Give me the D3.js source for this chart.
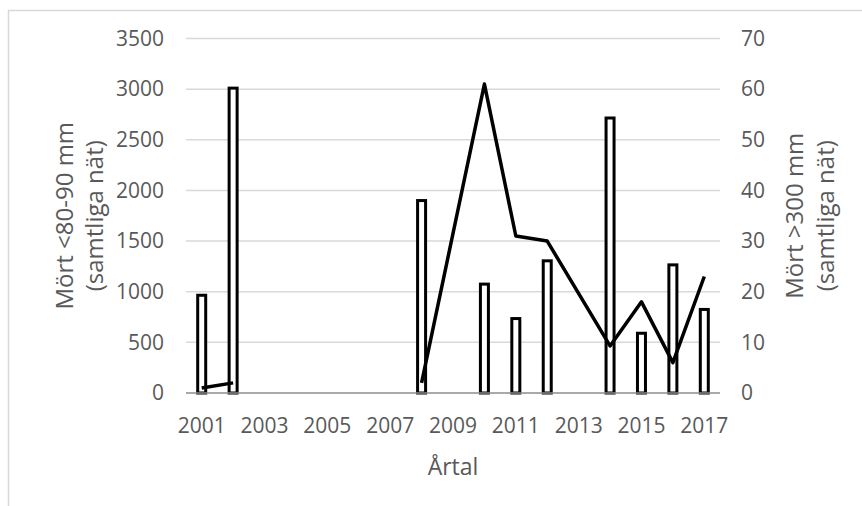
<!DOCTYPE html>
<html>
<head>
<meta charset="utf-8">
<script src="https://cdn.jsdelivr.net/npm/d3@7"></script>
<style>
  body { margin: 0; background: #fff; }
  svg { display: block; }
  text { font-family: "Open Sans", sans-serif; fill: #595959; }
</style>
</head>
<body>
<svg id="chart" width="862" height="506"></svg>
<script>
// ---- data ----
const years = d3.range(2001, 2018).map(String);
const barYears = ["2001", "2002", "2008", "2010", "2011", "2012", "2014", "2015", "2016", "2017"];
const barValues = [965, 3010, 1900, 1075, 735, 1305, 2715, 590, 1265, 825];
const lineYears = ["2001", "2002", "2003", "2008", "2010", "2011", "2012", "2014", "2015", "2016", "2017"];
const lineValues = [1, 2, null, 2, 61, 31, 30, 9.3, 18, 6, 23];
const leftTicks = [0, 500, 1000, 1500, 2000, 2500, 3000, 3500];
const rightTicks = [0, 10, 20, 30, 40, 50, 60, 70];
const xTickLabels = ["2001", "2003", "2005", "2007", "2009", "2011", "2013", "2015", "2017"];
const leftTitle = ["Mört <80-90 mm", "(samtliga nät)"];
const rightTitle = ["Mört >300 mm", "(samtliga nät)"];
const xTitle = "Årtal";

// ---- layout ----
const svg = d3.select("#chart");
const plot = { left: 186, right: 720, top: 38.5, bottom: 393 };

svg.append("rect")
  .attr("x", 8.5).attr("y", 10.5).attr("width", 900).attr("height", 600)
  .attr("fill", "none").attr("stroke", "#d9d9d9").attr("stroke-width", 1.5);

const x = d3.scaleBand().domain(years).range([plot.left, plot.right]);
const yL = d3.scaleLinear().domain([0, 3500]).range([plot.bottom, plot.top]);
const yR = d3.scaleLinear().domain([0, 70]).range([plot.bottom, plot.top]);

// gridlines
svg.append("g").selectAll("line").data(leftTicks.filter(d => d > 0)).join("line")
  .attr("x1", plot.left).attr("x2", plot.right)
  .attr("y1", d => yL(d)).attr("y2", d => yL(d))
  .attr("stroke", "#d9d9d9").attr("stroke-width", 1.5);

const styleTicks = g => g.selectAll("text")
  .style("font-size", "21px").style("fill", "#595959").style("font-family", "Open Sans");

// left axis labels
const leftAxis = d3.axisLeft(yL).tickValues(leftTicks).tickFormat(d3.format("d")).tickSize(0).tickPadding(22);
const gL = svg.append("g").attr("transform", `translate(${plot.left},0)`).call(leftAxis);
gL.select(".domain").remove();
styleTicks(gL);

// right axis labels
const rightAxis = d3.axisRight(yR).tickValues(rightTicks).tickFormat(d3.format("d")).tickSize(0).tickPadding(21);
const gR = svg.append("g").attr("transform", `translate(${plot.right},0)`).call(rightAxis);
gR.select(".domain").remove();
styleTicks(gR);

// x axis labels
const xAxis = d3.axisBottom(x).tickValues(xTickLabels).tickSize(0).tickPadding(25);
const gX = svg.append("g").attr("transform", `translate(0,${plot.bottom})`).call(xAxis);
gX.select(".domain").remove();
styleTicks(gX);

// bars
const barW = 8;
svg.append("g").selectAll("rect").data(barYears.map((y, i) => ({ y, v: barValues[i] }))).join("rect")
  .attr("x", d => x(d.y) + x.bandwidth() / 2 - barW / 2)
  .attr("width", barW)
  .attr("y", d => yL(d.v))
  .attr("height", d => yL(0) - yL(d.v))
  .attr("fill", "#fff").attr("stroke", "#000").attr("stroke-width", 3);

// baseline
svg.append("line")
  .attr("x1", plot.left).attr("x2", plot.right)
  .attr("y1", yL(0)).attr("y2", yL(0))
  .attr("stroke", "#8c8c8c").attr("stroke-width", 1.5);

// line
const lineData = lineYears.map((y, i) => ({ y, v: lineValues[i] }));
const line = d3.line()
  .defined(d => d.v !== null)
  .x(d => x(d.y) + x.bandwidth() / 2)
  .y(d => yR(d.v));
svg.append("path").datum(lineData)
  .attr("d", line)
  .attr("fill", "none").attr("stroke", "#000").attr("stroke-width", 3.5)
  .attr("stroke-linejoin", "round").attr("stroke-linecap", "butt");

// titles
const cy = (plot.top + plot.bottom) / 2;
const lt = svg.append("text").attr("transform", `translate(73,${cy}) rotate(-90)`)
  .attr("text-anchor", "middle").style("font-size", "24px");
lt.append("tspan").attr("x", 0).attr("y", 0).text(leftTitle[0]);
lt.append("tspan").attr("x", 0).attr("y", 30).text(leftTitle[1]);

const rt = svg.append("text").attr("transform", `translate(803,${cy}) rotate(-90)`)
  .attr("text-anchor", "middle").style("font-size", "24px");
rt.append("tspan").attr("x", 0).attr("y", 0).text(rightTitle[0]);
rt.append("tspan").attr("x", 0).attr("y", 31).text(rightTitle[1]);

svg.append("text").attr("x", (plot.left + plot.right) / 2).attr("y", 475)
  .attr("text-anchor", "middle").style("font-size", "23px").text(xTitle);
</script>
</body>
</html>
